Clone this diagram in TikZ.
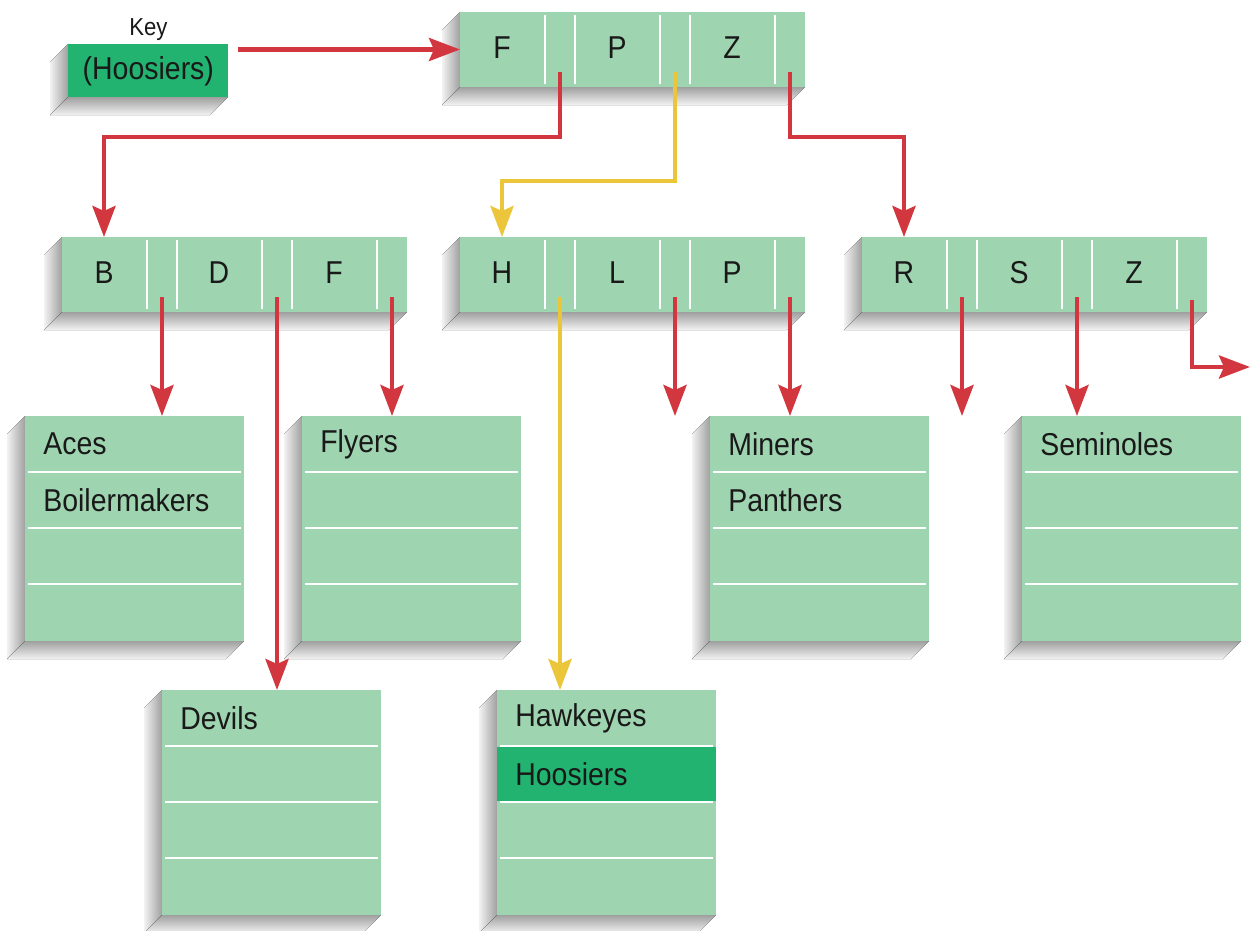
\documentclass[tikz,border=0pt]{standalone}
\usepackage{fontspec}
\setmainfont{Liberation Sans}[FakeStretch=0.9]
\usetikzlibrary{arrows.meta,positioning}
\definecolor{leafgreen}{HTML}{9ED4AF}
\definecolor{keygreen}{HTML}{22B370}
\definecolor{ptrred}{HTML}{D2363E}
\definecolor{ptryellow}{HTML}{EBC63A}

% grey side faces below and left of a box: x y w h
\newcommand{\extrude}[4]{%
  \fill [left color=gray!10, right color=gray!75] (#1,#2) -- ++(-18,18) -- ++(0,#4) -- (#1,#2+#4) -- cycle;
  \fill [top color=gray!75, bottom color=gray!10] (#1,#2+#4) -- ++(-18,18) -- ++(#3,0) -- (#1+#3,#2+#4) -- cycle;
}
% index node: name x y key1 key2 key3
\newcommand{\idxnode}[6]{%
  \extrude{#2}{#3}{345}{75}
  \node (#1) [idxbox, anchor=north west] at (#2,#3) {};
  \foreach \d in {85,115,200,230,315}
    \draw [divider] (#2+\d,#3+3) -- (#2+\d,#3+72);
  \node (#1-k1) [keytext] at (#2+42,#3+36) {#4};
  \node (#1-k2) [keytext] at (#2+157,#3+36) {#5};
  \node (#1-k3) [keytext] at (#2+272,#3+36) {#6};
  \coordinate (#1-p1) at (#2+100,#3+60);
  \coordinate (#1-p2) at (#2+215,#3+60);
  \coordinate (#1-p3) at (#2+330,#3+60);
}
% leaf node: name x y first entry
\newcommand{\leafnode}[4]{%
  \extrude{#2}{#3}{219}{225}
  \node (#1) [leafbox, anchor=north west] at (#2,#3) {};
  \foreach \r in {56,112,168}
    \draw [divider] (#2+3,#3+\r) -- (#2+216,#3+\r);
  \node (#1-t1) [leaftext] at (#2+18,#3+28) {#4};
}

\begin{document}
\begin{tikzpicture}[x=0.02cm, y=-0.02cm,
    idxbox/.style={rectangle, fill=leafgreen, minimum width=6.9cm, minimum height=1.5cm, inner sep=0, outer sep=0},
    leafbox/.style={rectangle, fill=leafgreen, minimum width=4.38cm, minimum height=4.5cm, inner sep=0, outer sep=0},
    divider/.style={draw=white, line width=1.1pt},
    keytext/.style={font=\fontsize{18}{20}\selectfont, text=black!90},
    leaftext/.style={anchor=west, inner sep=0, font=\fontsize{18}{20}\selectfont, text=black!90},
    redarrow/.style={draw=ptrred, line width=2.6pt, -{Stealth[length=0.62cm, width=0.46cm, inset=0.1cm]}},
    yellowarrow/.style={redarrow, draw=ptryellow}]
    \useasboundingbox (0,0) rectangle (1250,930);

    \extrude{68}{44}{160}{53}
    \node (key) [anchor=north west, fill=keygreen, minimum width=3.2cm, minimum height=1.06cm, inner sep=0, font=\fontsize{18}{20}\selectfont, text=black!90] at (68,44) {(Hoosiers)};
    \node (keylabel) [above=2pt of key, inner sep=0, font=\fontsize{14}{16}\selectfont, text=black!90] {Key};

    \idxnode{root}{460}{12}{F}{P}{Z}
    \idxnode{bdf}{62}{237}{B}{D}{F}
    \idxnode{hlp}{460}{237}{H}{L}{P}
    \idxnode{rsz}{862}{237}{R}{S}{Z}

    \leafnode{aces}{25}{416}{Aces}
    \node (aces-t2) [leaftext] at (43,500) {Boilermakers};
    \leafnode{flyers}{302}{416}{Flyers}
    \leafnode{miners}{710}{416}{Miners}
    \node (miners-t2) [leaftext] at (728,500) {Panthers};
    \leafnode{seminoles}{1022}{416}{Seminoles}
    \leafnode{devils}{162}{690}{Devils}
    \leafnode{hawk}{497}{690}{Hawkeyes}
    \fill [keygreen] (497,747) rectangle (716,801);
    \node (hawk-t2) [leaftext] at (515,774) {Hoosiers};

    \coordinate (hlp-nil) at (hlp-p2 |- miners.north);
    \coordinate (rsz-nil) at (rsz-p1 |- miners.north);
    \coordinate (rsz-out) at (1250,367);

    \draw [redarrow] ([xshift=0.18cm]key.east |- root.west) -- (root.west);
    \draw [redarrow] (root-p1) -- ++(0,65) -| (bdf-k1 |- bdf.north);
    \draw [yellowarrow] (root-p2) -- ++(0,109) -| (hlp-k1 |- hlp.north);
    \draw [redarrow] (root-p3) -- ++(0,65) -| (rsz-k1 |- rsz.north);

    \draw [redarrow] (bdf-p1) -- (bdf-p1 |- aces.north);
    \draw [redarrow] (bdf-p2) -- (bdf-p2 |- devils.north);
    \draw [redarrow] (bdf-p3) -- (bdf-p3 |- flyers.north);
    \draw [yellowarrow] (hlp-p1) -- (hlp-p1 |- hawk.north);
    \draw [redarrow] (hlp-p2) -- (hlp-nil);
    \draw [redarrow] (hlp-p3) -- (hlp-p3 |- miners.north);
    \draw [redarrow] (rsz-p1) -- (rsz-nil);
    \draw [redarrow] (rsz-p2) -- (rsz-p2 |- seminoles.north);
    \draw [redarrow] ([yshift=-0.06cm]rsz-p3) |- (rsz-out);
\end{tikzpicture}
\end{document}
